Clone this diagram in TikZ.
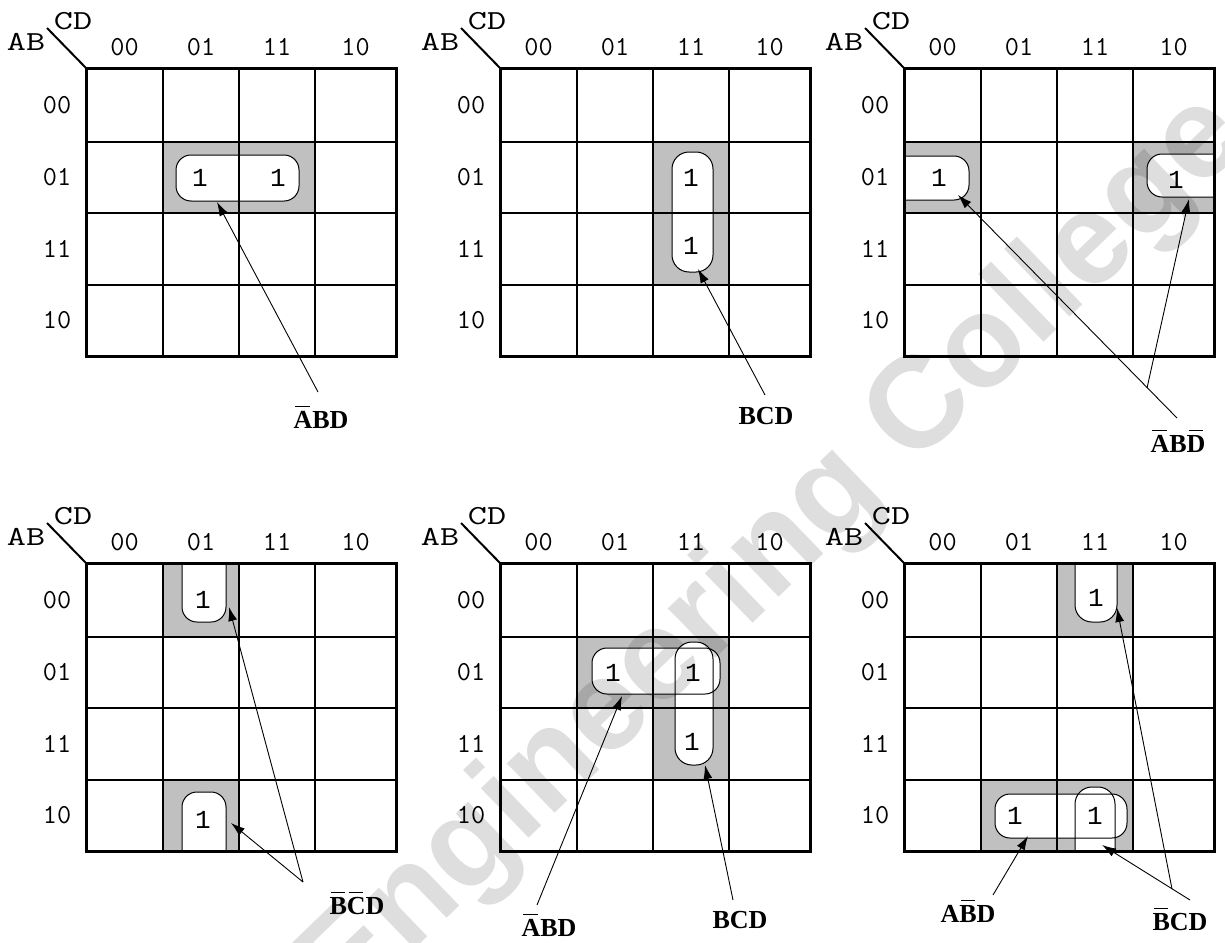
\documentclass[tikz,border=0pt]{standalone}
\usepackage{fontspec}
\setmainfont{Liberation Serif}
\newfontfamily\monof{Liberation Mono}
\newfontfamily\wmfont{Liberation Sans}
\usetikzlibrary{arrows.meta}
\definecolor{shadegray}{HTML}{C0C0C0}
\newsavebox\olbox
\newcommand\myol[1]{\sbox\olbox{#1}\rlap{\hspace{0.1\wd\olbox}\raisebox{0.8em}{\rule{0.78\wd\olbox}{1.6pt}}}\usebox\olbox}
\tikzset{
 hdr/.style={font=\ttfamily\fontsize{27.5}{27.5}\selectfont, inner sep=0pt},
 one/.style={font=\monof\fontsize{26}{26}\selectfont, inner sep=0pt},
 expr/.style={font=\bfseries\fontsize{26}{26}\selectfont, inner sep=0pt, anchor=base},
 gridline/.style={line width=1.5pt},
 border/.style={line width=3pt},
 shd/.style={fill=shadegray},
 loopfill/.style={fill=white, rounded corners=#1},
 loopfill/.default=15pt,
 loopline/.style={draw=black, line width=1pt, rounded corners=#1},
 loopline/.default=15pt,
 arr/.style={line width=0.9pt, -{Latex[length=14pt,width=9pt]}},
}
\newcommand\kgrid[3]{%
 \foreach \gx in {77,153,229}{\draw[gridline] ({#2+\gx},#3) -- ({#2+\gx},{#3+288});}
 \foreach \gy in {74,145,217}{\draw[gridline] (#2,{#3+\gy}) -- ({#2+310},{#3+\gy});}
 \draw[border] (#2,#3) rectangle ({#2+310},{#3+288});
 \foreach \lab/\cc/\rc [count=\i] in {00/38.5/37,01/115/109.5,11/191/181,10/269.5/252.5}{
   \node[hdr] (#1-c\i) at ({#2+\cc},{#3-21}) {\lab};
   \node[hdr] (#1-r\i) at ({#2-29},{#3+\rc}) {\lab};
 }
 \node[hdr, xscale=1.35] (#1-AB) at ({#2-60},{#3-26}) {AB};
 \node[hdr, xscale=1.35] (#1-CD) at ({#2-13},{#3-47}) {CD};
 \coordinate (#1-o) at (#2,#3);
 \coordinate (#1-d) at ({#2-39},{#3-40});
 \draw[line width=2pt] (#1-d) -- (#1-o);
}
\begin{document}
\begin{tikzpicture}[x=1pt,y=-1pt]
\useasboundingbox (0,0) rectangle (1225,942);
\fill[white] (0,0) rectangle (1225,942);

% ---------- shading ----------
\fill[shd] (163,142) rectangle (315,213);
\fill[shd] (653,142) rectangle (729,285);
\fill[shd] (904,142) rectangle (981,213);
\fill[shd] (1133,142) rectangle (1214,213);
\fill[shd] (163,563) rectangle (239,637);
\fill[shd] (163,780) rectangle (239,851);
\fill[shd] (577,637) rectangle (729,708);
\fill[shd] (653,708) rectangle (729,780);
\fill[shd] (1057,563) rectangle (1133,637);
\fill[shd] (981,780) rectangle (1133,851);

% ---------- loops ----------
% map 1
\path[loopfill] (176,155) rectangle (299,201);
\path[loopline] (176,155) rectangle (299,201);
% map 2
\path[loopfill=17pt] (672,152) rectangle (713,272);
\path[loopline=17pt] (672,152) rectangle (713,272);
% map 3 (wrap around left/right)
\begin{scope}
 \clip (904,68) rectangle (1214,356);
 \path[loopfill] (870,156) rectangle (969,200);
 \path[loopfill] (1147,154) rectangle (1250,197);
 \path[loopline] (870,156) rectangle (969,200);
 \path[loopline] (1147,154) rectangle (1250,197);
\end{scope}
% map 4 (wrap around top/bottom)
\begin{scope}
 \clip (86,563) rectangle (396,851);
 \path[loopfill] (182,530) rectangle (226,622);
 \path[loopfill] (182,792) rectangle (226,885);
 \path[loopline] (182,530) rectangle (226,622);
 \path[loopline] (182,792) rectangle (226,885);
\end{scope}
% map 5
\path[loopfill] (592,648) rectangle (720,694);
\path[loopfill=17pt] (675,642) rectangle (713,765);
\path[loopline] (592,648) rectangle (720,694);
\path[loopline=17pt] (675,642) rectangle (713,765);
% map 6
\begin{scope}
 \clip (904,563) rectangle (1214,851);
 \path[loopfill] (995,794) rectangle (1127,838);
 \path[loopfill=17pt] (1075,530) rectangle (1117,622);
 \path[loopfill=17pt] (1075,787) rectangle (1115,885);
 \path[loopline] (995,794) rectangle (1127,838);
 \path[loopline=17pt] (1075,530) rectangle (1117,622);
 \path[loopline=17pt] (1075,787) rectangle (1115,885);
\end{scope}

% ---------- grids ----------
\kgrid{m1}{86}{68}
\kgrid{m2}{500}{68}
\kgrid{m3}{904}{68}
\kgrid{m4}{86}{563}
\kgrid{m5}{500}{563}
\kgrid{m6}{904}{563}

% ---------- ones ----------
\node[one] (m1-a) at (200,178) {1};
\node[one] (m1-b) at (278,178) {1};
\node[one] (m2-a) at (691,178) {1};
\node[one] (m2-b) at (691,246) {1};
\node[one] (m3-a) at (939,178) {1};
\node[one] (m3-b) at (1176,180) {1};
\node[one] (m4-a) at (203,600) {1};
\node[one] (m4-b) at (203,820) {1};
\node[one] (m5-a) at (613,673) {1};
\node[one] (m5-b) at (693,673) {1};
\node[one] (m5-c) at (692,742) {1};
\node[one] (m6-a) at (1096,598) {1};
\node[one] (m6-b) at (1015,816) {1};
\node[one] (m6-c) at (1095,816) {1};

% ---------- expression labels ----------
\node[expr] (m1-e) at (321,428) {\myol{A}BD};
\node[expr] (m2-e) at (766,424) {BCD};
\node[expr] (m3-e) at (1178,452) {\myol{A}B\myol{D}};
\node[expr] (m4-e) at (357,914) {\myol{B}\myol{C}D};
\node[expr] (m5-e1) at (549,936) {\myol{A}BD};
\node[expr] (m5-e2) at (740,928) {BCD};
\node[expr] (m6-e1) at (968,922) {A\myol{B}D};
\node[expr] (m6-e2) at (1180,930) {\myol{B}CD};

% ---------- arrows ----------
\coordinate (m1-t) at (318,392); \coordinate (m1-h) at (217,202);
\draw[arr] (m1-t) -- (m1-h);
\coordinate (m2-t) at (765,395); \coordinate (m2-h) at (698,269);
\draw[arr] (m2-t) -- (m2-h);
\coordinate (m3-t) at (1177,418); \coordinate (m3-j) at (1147,388);
\coordinate (m3-h1) at (958,195); \coordinate (m3-h2) at (1189,199);
\draw[arr] (m3-t) -- (m3-h1);
\draw[arr] (m3-j) -- (m3-h2);
\coordinate (m4-j) at (303,882);
\coordinate (m4-h1) at (229,607); \coordinate (m4-h2) at (231,823);
\draw[arr] (m4-j) -- (m4-h1);
\draw[arr] (m4-j) -- (m4-h2);
\coordinate (m5-t1) at (537,905); \coordinate (m5-h1) at (622,696);
\coordinate (m5-t2) at (733,900); \coordinate (m5-h2) at (705,765);
\draw[arr] (m5-t1) -- (m5-h1);
\draw[arr] (m5-t2) -- (m5-h2);
\coordinate (m6-t1) at (993,895); \coordinate (m6-h1) at (1028,836);
\coordinate (m6-t2) at (1190,900); \coordinate (m6-j) at (1172,889);
\coordinate (m6-h2) at (1102,845); \coordinate (m6-h3) at (1117,608);
\draw[arr] (m6-t1) -- (m6-h1);
\draw[arr] (m6-t2) -- (m6-h2);
\draw[arr] (m6-j) -- (m6-h3);

% ---------- watermark ----------
\node[font=\wmfont\bfseries\fontsize{130}{130}\selectfont, text=black, text opacity=0.13, rotate=44, inner sep=0pt] (wm) at (775,555) {Engineering College};
\end{tikzpicture}
\end{document}
